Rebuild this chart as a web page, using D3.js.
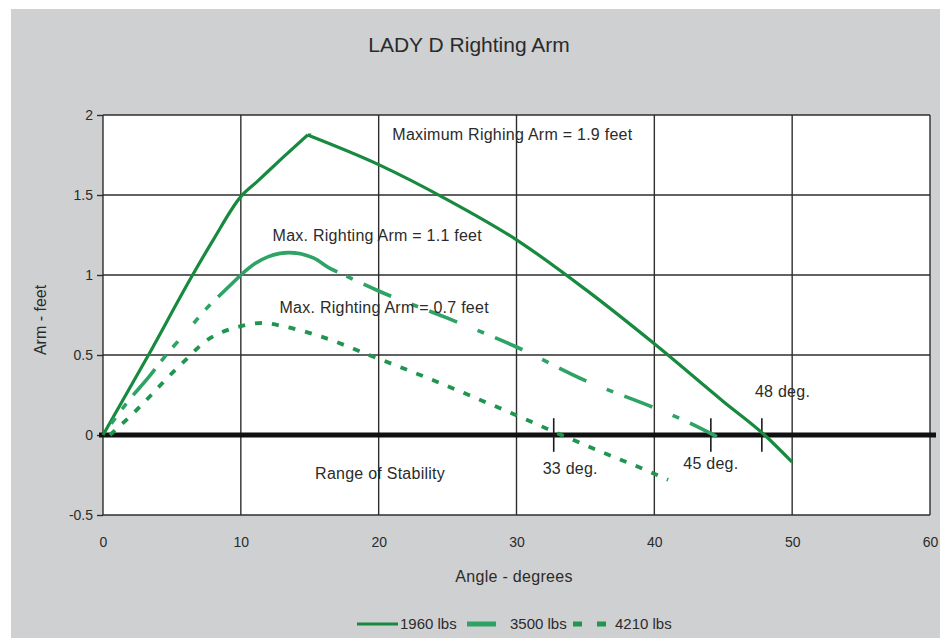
<!DOCTYPE html>
<html><head><meta charset="utf-8">
<script src="https://cdn.jsdelivr.net/npm/d3@7"></script>
<style>
body{margin:0;background:#fff}
svg{display:block}
text{font-family:"Liberation Sans",Arial,sans-serif;fill:#2b2b2b}
</style>
</head><body>
<svg id="c" width="940" height="638"></svg>
<script>
// ---- data ----
const title = "LADY D Righting Arm";
const xTicks = [0, 10, 20, 30, 40, 50, 60];
const yTicks = [-0.5, 0, 0.5, 1, 1.5, 2];
const yTickLabels = ["-0.5", "0", "0.5", "1", "1.5", "2"];

const angle1960 = [0, 3.3, 6.5, 8, 10, 11.2, 13, 14.85, 20, 25, 30, 35, 40, 45, 48, 50];
const arm1960   = [0, 0.5, 1.0, 1.22, 1.49, 1.585, 1.73, 1.875, 1.69, 1.47, 1.22, 0.91, 0.57, 0.21, 0, -0.17];

const angle3500 = [0, 2, 3.3, 4.3, 6.5, 7.5, 8.8, 10, 11, 12, 13.5, 15.3, 16.5, 17, 20, 25, 30, 35, 40, 42.1, 45.2];
const arm3500   = [0, 0.23, 0.36, 0.47, 0.69, 0.79, 0.9, 1.0, 1.07, 1.115, 1.14, 1.105, 1.04, 1.02, 0.9, 0.73, 0.55, 0.34, 0.17, 0.094, -0.04];

const angle4210 = [0.5, 2.25, 3.5, 4.7, 6, 7.5, 8.7, 10, 11.5, 13.3, 16, 19.3, 24.3, 29.4, 33, 36, 39.4, 41];
const arm4210   = [0, 0.14, 0.25, 0.36, 0.47, 0.59, 0.645, 0.68, 0.70, 0.675, 0.61, 0.5, 0.33, 0.145, 0.01, -0.1, -0.22, -0.28];

const seriesNames = ["1960 lbs", "3500 lbs", "4210 lbs"];

const markerAngles = [32.7, 44.1, 47.8];
const notes = [
  {text: "Maximum Righing Arm = 1.9 feet", angle: 29.7, arm: 1.88},
  {text: "Max. Righting Arm = 1.1 feet",   angle: 19.9, arm: 1.25},
  {text: "Max. Righting Arm = 0.7 feet",   angle: 20.4, arm: 0.80},
  {text: "Range of Stability",             angle: 20.1, arm: -0.24},
  {text: "33 deg.",                        angle: 33.9, arm: -0.21},
  {text: "45 deg.",                        angle: 44.1, arm: -0.18},
  {text: "48 deg.",                        angle: 49.3, arm: 0.27}
];

// ---- layout ----
const svg = d3.select("#c");
const W = 940, H = 638;
const x = d3.scaleLinear().domain([0, 60]).range([103, 930]);
const y = d3.scaleLinear().domain([-0.5, 2]).range([515, 115]);
const colors = ["#178a3f", "#2ea366", "#1f9550"];

svg.append("rect").attr("x", 0).attr("y", 0).attr("width", W).attr("height", H).attr("fill", "#fff");
svg.append("rect").attr("x", 11).attr("y", 9).attr("width", W - 11).attr("height", H - 9).attr("fill", "#cfd0d2");

// plot area
svg.append("rect").attr("x", x(0)).attr("y", y(2)).attr("width", x(60) - x(0)).attr("height", y(-0.5) - y(2))
  .attr("fill", "#fff");

// grid
const grid = svg.append("g").attr("stroke", "#2e2e2e").attr("stroke-width", 1.4);
grid.selectAll("line.v").data(xTicks).join("line")
  .attr("x1", d => x(d)).attr("x2", d => x(d)).attr("y1", y(2)).attr("y2", y(-0.5));
grid.selectAll("line.h").data(yTicks).join("line")
  .attr("x1", x(0)).attr("x2", x(60)).attr("y1", d => y(d)).attr("y2", d => y(d));

// axes
const yAxis = svg.append("g").attr("transform", `translate(${x(0)},0)`)
  .call(d3.axisLeft(y).tickValues(yTicks).tickSize(6).tickPadding(4)
    .tickFormat((d, i) => yTickLabels[i]));
yAxis.select(".domain").remove();
yAxis.selectAll("line").attr("stroke", "#2e2e2e").attr("stroke-width", 1.4);
yAxis.selectAll("text").style("font-size", "14px").attr("fill", "#2b2b2b").style("font-family", null);

const xAxis = svg.append("g").attr("transform", `translate(0,${y(-0.5)})`)
  .call(d3.axisBottom(x).tickValues(xTicks).tickSize(0).tickPadding(22));
xAxis.select(".domain").remove();
xAxis.selectAll("text").style("font-size", "14px").attr("fill", "#2b2b2b").style("font-family", null);

// zero line
svg.append("line").attr("x1", x(0) - 4).attr("x2", x(60) + 6).attr("y1", y(0)).attr("y2", y(0))
  .attr("stroke", "#111").attr("stroke-width", 5);

// marker ticks
svg.append("g").selectAll("line").data(markerAngles).join("line")
  .attr("x1", d => x(d)).attr("x2", d => x(d)).attr("y1", y(0.105)).attr("y2", y(-0.105))
  .attr("stroke", "#1a1a1a").attr("stroke-width", 1.6);

// curves
const smooth = d3.line().x(d => x(d[0])).y(d => y(d[1])).curve(d3.curveMonotoneX);

const s1960 = angle1960.map((a, i) => [a, arm1960[i]]);
const s3500 = angle3500.map((a, i) => [a, arm3500[i]]);
const s4210 = angle4210.map((a, i) => [a, arm4210[i]]);

// 1960: smooth on each side of the sharp peak
const peakIdx = arm1960.indexOf(d3.max(arm1960));
const up1960 = s1960.slice(0, peakIdx + 1);
const down1960 = s1960.slice(peakIdx);
svg.append("path").attr("d", smooth(up1960) + smooth(down1960).replace(/^M[^CL]*/, "L" + x(angle1960[peakIdx]) + "," + y(arm1960[peakIdx])))
  .attr("fill", "none").attr("stroke", colors[0]).attr("stroke-width", 3.2).attr("stroke-linejoin", "miter");

const rise = s3500.filter(d => d[0] <= 10);
const arc = s3500.filter(d => d[0] >= 10 && d[0] <= 17);
const fall = s3500.filter(d => d[0] >= 17);
svg.append("path").datum(rise).attr("d", smooth).attr("fill", "none")
  .attr("stroke", colors[1]).attr("stroke-width", 3.6)
  .attr("stroke-dasharray", "0,14,7,11,7,11,34,10,8,10,8,10");
svg.append("path").datum(arc).attr("d", smooth).attr("fill", "none")
  .attr("stroke", colors[1]).attr("stroke-width", 3.6);
svg.append("path").datum(fall).attr("d", smooth).attr("fill", "none")
  .attr("stroke", colors[1]).attr("stroke-width", 3.6)
  .attr("stroke-dasharray", "0,10,7,12,30,12");

svg.append("path").datum(s4210).attr("d", smooth).attr("fill", "none")
  .attr("stroke", colors[2]).attr("stroke-width", 3.8)
  .attr("stroke-dasharray", "7,10");

// annotations
svg.append("g").selectAll("text").data(notes).join("text")
  .attr("x", d => x(d.angle)).attr("y", d => y(d.arm)).attr("dy", "0.35em")
  .attr("text-anchor", "middle").style("font-size", "16px").style("letter-spacing", "0.25px").text(d => d.text);

// title & axis titles
svg.append("text").attr("x", 469).attr("y", 45).attr("dy", "0.35em").attr("text-anchor", "middle")
  .style("font-size", "21px").text(title);
svg.append("text").attr("transform", "translate(40,320) rotate(-90)").attr("dy", "0.35em")
  .attr("text-anchor", "middle").style("font-size", "16px").text("Arm - feet");
svg.append("text").attr("x", 514).attr("y", 576).attr("dy", "0.35em").attr("text-anchor", "middle")
  .style("font-size", "16px").style("letter-spacing", "0.3px").text("Angle - degrees");

// legend
const leg = svg.append("g");
const ly = 624;
leg.append("line").attr("x1", 357).attr("x2", 398).attr("y1", ly).attr("y2", ly)
  .attr("stroke", colors[0]).attr("stroke-width", 3.2);
leg.append("text").attr("x", 400).attr("y", ly).attr("dy", "0.35em").style("font-size", "15px").text(seriesNames[0]);
leg.append("line").attr("x1", 467).attr("x2", 496).attr("y1", ly).attr("y2", ly)
  .attr("stroke", colors[1]).attr("stroke-width", 5);
leg.append("text").attr("x", 510).attr("y", ly).attr("dy", "0.35em").style("font-size", "15px").text(seriesNames[1]);
leg.append("line").attr("x1", 573).attr("x2", 607).attr("y1", ly).attr("y2", ly)
  .attr("stroke", colors[2]).attr("stroke-width", 5).attr("stroke-dasharray", "9,15");
leg.append("text").attr("x", 615).attr("y", ly).attr("dy", "0.35em").style("font-size", "15px").text(seriesNames[2]);
</script>
</body></html>
